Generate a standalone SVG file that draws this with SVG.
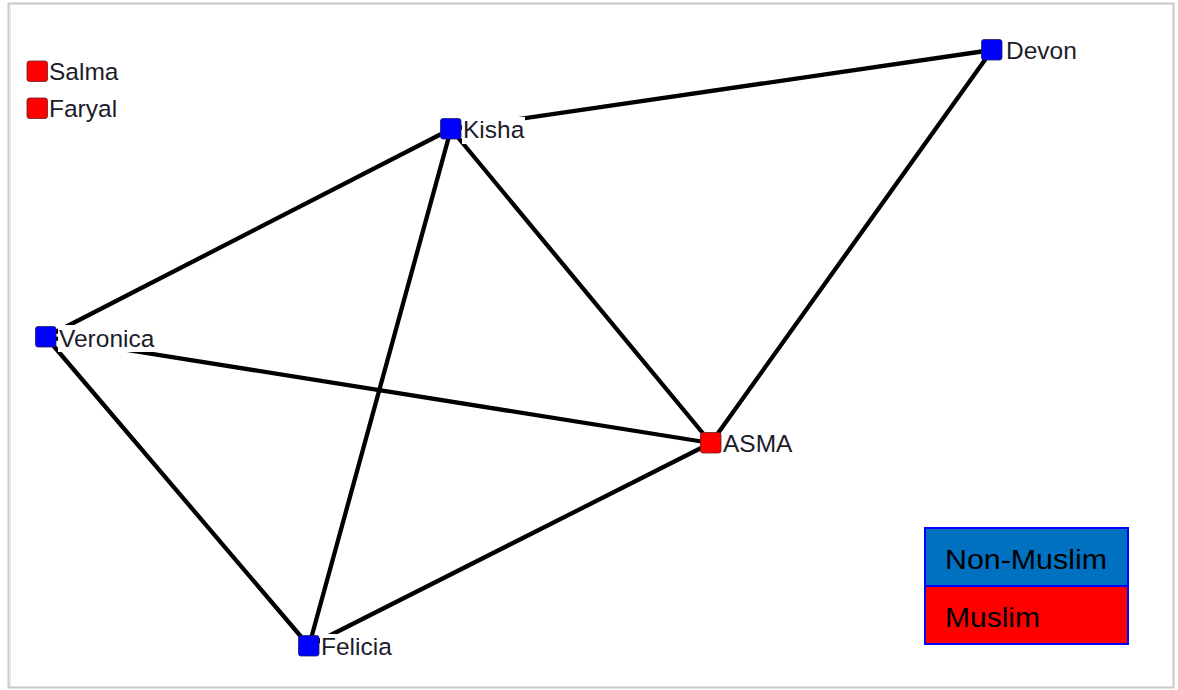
<svg xmlns="http://www.w3.org/2000/svg" width="1178" height="690" viewBox="0 0 1178 690">
<style>
.lbl{font-family:"Liberation Sans",Arial,sans-serif;font-size:24.5px;fill:#1c1c2a}
.bg{fill:#fff}
.b{fill:#0000ff;stroke:#202060;stroke-width:0.8}
.r{fill:#ff0000;stroke:#602020;stroke-width:0.8}
.leg{font-family:"Liberation Sans",Arial,sans-serif;font-size:27px;fill:#000}
#edges line{stroke:#000;stroke-width:4.3;stroke-linecap:round}
</style>
<rect x="0" y="0" width="1178" height="690" fill="#fff"/>
<rect x="8.5" y="3.5" width="1165" height="684" fill="#fff" stroke="#c8c8c8" stroke-width="2"/>
<line x1="10" y1="5" x2="10" y2="686" stroke="#e6e6e6" stroke-width="2"/>
<g id="edges">
<line x1="451" y1="129" x2="992" y2="50"/>
<line x1="451" y1="129" x2="46" y2="337"/>
<line x1="451" y1="129" x2="309" y2="646"/>
<line x1="451" y1="129" x2="711" y2="443"/>
<line x1="992" y1="50" x2="711" y2="443"/>
<line x1="46" y1="337" x2="711" y2="443"/>
<line x1="46" y1="337" x2="309" y2="646"/>
<line x1="309" y1="646" x2="711" y2="443"/>
</g>
<g id="salma"><rect class="bg" x="48" y="59" width="72" height="27"/><rect class="r" x="27" y="61" width="20.5" height="20.5" rx="2.5"/><text class="lbl" x="49" y="80">Salma</text></g>
<g id="faryal"><rect class="bg" x="48" y="96" width="72" height="27"/><rect class="r" x="27" y="98" width="20.5" height="20.5" rx="2.5"/><text class="lbl" x="49" y="117">Faryal</text></g>
<g id="kisha"><rect class="bg" x="462" y="117" width="63" height="27"/><rect class="b" x="440.5" y="118.5" width="20.5" height="20.5" rx="2.5"/><text class="lbl" x="463" y="138">Kisha</text></g>
<g id="devon"><rect class="bg" x="1004" y="38" width="76" height="27"/><rect class="b" x="981.5" y="39.5" width="20.5" height="20.5" rx="2.5"/><text class="lbl" x="1006" y="59">Devon</text></g>
<g id="veronica"><rect class="bg" x="58" y="325" width="98" height="27"/><rect class="b" x="35.5" y="326.5" width="20.5" height="20.5" rx="2.5"/><text class="lbl" x="59" y="347">Veronica</text></g>
<g id="asma"><rect class="bg" x="722" y="431" width="70" height="27"/><rect class="r" x="700.5" y="432.5" width="20.5" height="20.5" rx="2.5"/><text class="lbl" x="723" y="452">ASMA</text></g>
<g id="felicia"><rect class="bg" x="320" y="634" width="74" height="27"/><rect class="b" x="298.5" y="635.5" width="20.5" height="20.5" rx="2.5"/><text class="lbl" x="321" y="655">Felicia</text></g>
<g id="legend">
<rect x="925" y="528" width="203" height="58" fill="#0070c0" stroke="#0000ff" stroke-width="2"/>
<rect x="925" y="586" width="203" height="58" fill="#ff0000" stroke="#0000ff" stroke-width="2"/>
<text class="leg" x="945" y="569" textLength="162" lengthAdjust="spacingAndGlyphs">Non-Muslim</text>
<text class="leg" x="945" y="627" textLength="95" lengthAdjust="spacingAndGlyphs">Muslim</text>
</g>
</svg>
